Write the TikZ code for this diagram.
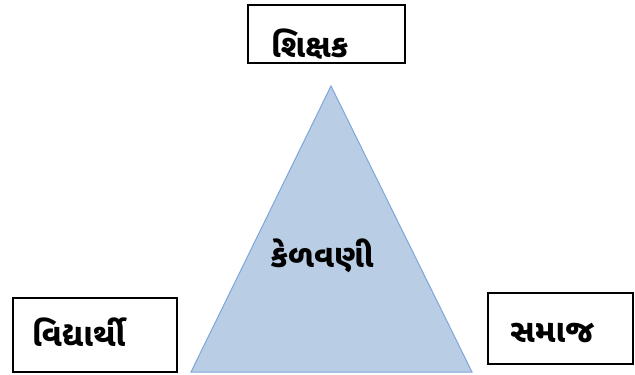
\documentclass[tikz,border=0pt]{standalone}
\usepackage{fontspec}
\newfontfamily\gujfont[Script=Gujarati]{Noto Sans Gujarati UI}
\definecolor{trifill}{HTML}{B9CDE5}
\definecolor{triline}{HTML}{7EA6DC}
\begin{document}
\begin{tikzpicture}[x=1pt,y=-1pt,
  labelbox/.style={draw=black,line width=1.3pt},
  gtext/.style={font=\gujfont\bfseries\fontsize{32}{36}\selectfont,inner sep=0pt,anchor=base west}]
\useasboundingbox (0,0) rectangle (635,375);
\draw[fill=trifill,draw=triline,line width=1pt] (331,86) coordinate (apex) -- (191,372) coordinate (bl) -- (472,372) coordinate (br) -- cycle;
\node[gtext,anchor=base] (kel) at (322,267) {કેળવણી};
\draw[labelbox] (248,5) rectangle (405,63);
\node[gtext] (shikshak) at (271,57) {શિક્ષક};
\draw[labelbox] (13,298) rectangle (177,372);
\node[gtext] (vidyarthi) at (32,346) {વિદ્યાર્થી};
\draw[labelbox] (488,293) rectangle (633,364);
\node[gtext] (samaj) at (510,342) {સમાજ};
\end{tikzpicture}
\end{document}
